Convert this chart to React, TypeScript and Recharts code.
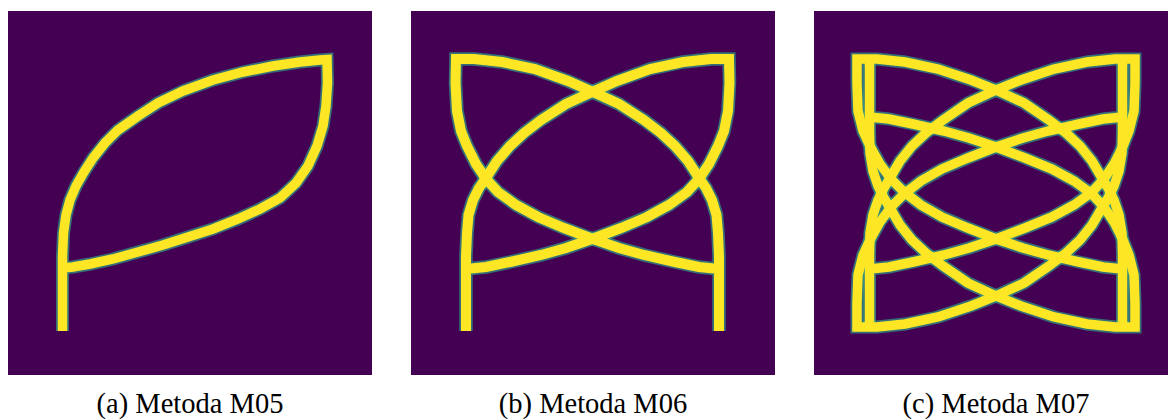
import React from 'react';
import { LineChart, Line, XAxis, YAxis, ReferenceArea } from 'recharts';

// Each member is a closed band: it starts at the bottom of a support stem,
// runs along the upper arc to a corner, down the side and back along the
// lower arc to the stem. Coordinates are in the panel's own 0..364 units,
// y measured from the top.
type Pt = [number, number];

const captions = ['(a) Metoda M05', '(b) Metoda M06', '(c) Metoda M07'];

// (a) M05 – single loop
const m05Loop: Pt[] = [
  [54.5, 320], [54.5, 280], [54.5, 245], [55.5, 222], [58, 204], [62, 189], [68, 175],
  [76, 161], [85, 147], [97, 132], [110, 119], [130, 105], [150, 92], [175, 80],
  [205, 69], [235, 61], [265, 55], [292, 51], [312, 49], [319, 48.5],
  [319.5, 72], [318, 95], [315, 115], [309, 135], [300, 155], [288, 172], [272, 187],
  [252, 198], [230, 208], [205, 218], [180, 226], [155, 234], [130, 241], [105, 248],
  [82, 253], [65, 256], [54.5, 257],
];

// (b) M06 – loop from the left stem and its partner from the right stem
const m06LoopLeft: Pt[] = [
  [55, 320], [55, 280], [55, 245], [56, 222], [57.5, 204], [62, 189], [68, 177],
  [75, 167], [86, 150], [99, 135], [113, 122], [130, 109], [155, 93], [181, 81],
  [206, 70], [239, 58], [272, 51], [300, 48], [318, 48],
  [318.5, 72], [317, 100], [313, 120], [307, 135], [298, 153], [288, 168], [276, 181],
  [258, 194], [236, 206], [210, 217], [181, 228], [155, 237], [130, 244], [99, 251],
  [75, 256], [55, 258],
];
const m06LoopRight: Pt[] = [
  [308, 320], [308, 280], [308, 245], [307, 222], [305.5, 204], [301, 189], [295, 177],
  [288, 167], [277, 150], [264, 135], [250, 122], [233, 109], [208, 93], [182, 81],
  [157, 70], [124, 58], [91, 51], [63, 48], [45, 48],
  [44.5, 72], [46, 100], [50, 120], [56, 135], [65, 153], [75, 168], [87, 181],
  [105, 194], [127, 206], [153, 217], [182, 228], [208, 237], [233, 244], [264, 251],
  [288, 256], [308, 258],
];

// (c) M07 – four loops: stems at the bottom and at the top, on both sides
const m07LoopBottomLeft: Pt[] = [
  [55.5, 320], [55.5, 280], [55.5, 245], [56, 222], [59, 204], [64, 189], [70, 177],
  [76, 167], [86, 150], [98, 135], [112, 122], [129, 109], [154, 92], [182, 79],
  [207, 69], [240, 58], [273, 51], [301, 48], [321, 48],
  [321, 72], [320, 100], [315, 120], [309, 135], [300, 153], [290, 168], [278, 181],
  [260, 194], [238, 206], [211, 217], [182, 228], [155, 237], [130, 244], [99, 251],
  [75, 256], [55.5, 258],
];
const m07LoopBottomRight: Pt[] = [
  [308.5, 320], [308.5, 280], [308.5, 245], [308, 222], [305, 204], [300, 189], [294, 177],
  [288, 167], [278, 150], [266, 135], [252, 122], [235, 109], [210, 92], [182, 79],
  [157, 69], [124, 58], [91, 51], [63, 48], [43, 48],
  [43, 72], [44, 100], [49, 120], [56, 135], [66, 153], [77, 168], [90, 181],
  [107, 194], [128, 206], [154, 217], [182, 228], [209, 237], [234, 244], [265, 251],
  [289, 256], [308.5, 258],
];
const m07LoopTopLeft: Pt[] = [
  [55.5, 44], [55.5, 84], [55.5, 119], [56, 142], [59, 160], [64, 175], [70, 187],
  [76, 197], [86, 214], [98, 229], [112, 242], [129, 255], [154, 272], [182, 285],
  [207, 295], [240, 306], [273, 313], [301, 316], [321, 316],
  [321, 292], [320, 264], [315, 244], [309, 229], [300, 211], [290, 196], [278, 183],
  [260, 170], [238, 158], [211, 147], [182, 136], [155, 127], [130, 120], [99, 113],
  [75, 108], [55.5, 106],
];
const m07LoopTopRight: Pt[] = [
  [308.5, 44], [308.5, 84], [308.5, 119], [308, 142], [305, 160], [300, 175], [294, 187],
  [288, 197], [278, 214], [266, 229], [252, 242], [235, 255], [210, 272], [182, 285],
  [157, 295], [124, 306], [91, 313], [63, 316], [43, 316],
  [43, 292], [44, 264], [49, 244], [56, 229], [66, 211], [77, 196], [90, 183],
  [107, 170], [128, 158], [154, 147], [182, 136], [209, 127], [234, 120], [265, 113],
  [289, 108], [308.5, 106],
];

const panels: { left: number; core: number; loops: Pt[][] }[] = [
  { left: 8, core: 9.5, loops: [m05Loop] },
  { left: 411, core: 10, loops: [m06LoopLeft, m06LoopRight] },
  {
    left: 814,
    core: 9.5,
    loops: [m07LoopBottomLeft, m07LoopBottomRight, m07LoopTopLeft, m07LoopTopRight],
  },
];

const SIZE = 364;
const BG = '#440154';
const CORE = '#fde725';
const EDGE = '#2f9e86';

const toRows = (pts: Pt[]) => pts.map(([x, y]) => ({ x, y }));

function Panel({ left, core, loops }: { left: number; core: number; loops: Pt[][] }) {
  const rows = loops.map(toRows);
  return (
    <div style={{ position: 'absolute', left, top: 11, width: SIZE, height: SIZE }}>
      <LineChart width={SIZE} height={SIZE} margin={{ top: 0, right: 0, bottom: 0, left: 0 }}>
        <XAxis type="number" dataKey="x" domain={[0, SIZE]} hide allowDataOverflow />
        <YAxis type="number" domain={[0, SIZE]} hide reversed allowDataOverflow />
        <ReferenceArea x1={0} x2={SIZE} y1={0} y2={SIZE} fill={BG} fillOpacity={1} stroke="none" />
        {rows.map((r, i) => (
          <Line
            key={`edge-${i}`}
            data={r}
            dataKey="y"
            type="linear"
            stroke={EDGE}
            strokeOpacity={0.7}
            strokeWidth={core + 3.5}
            strokeLinejoin="miter"
            strokeLinecap="butt"
            dot={false}
            activeDot={false}
            isAnimationActive={false}
          />
        ))}
        {rows.map((r, i) => (
          <Line
            key={`core-${i}`}
            data={r}
            dataKey="y"
            type="linear"
            stroke={CORE}
            strokeWidth={core}
            strokeLinejoin="miter"
            strokeLinecap="butt"
            dot={false}
            activeDot={false}
            isAnimationActive={false}
          />
        ))}
      </LineChart>
    </div>
  );
}

export default function App() {
  return (
    <div
      style={{
        position: 'fixed',
        left: 0,
        top: 0,
        width: 1168,
        height: 419,
        overflow: 'hidden',
        background: '#ffffff',
      }}
    >
      {panels.map((p, i) => (
        <Panel key={i} left={p.left} core={p.core} loops={p.loops} />
      ))}
      {panels.map((p, i) => (
        <div
          key={`cap-${i}`}
          style={{
            position: 'absolute',
            left: p.left,
            top: 390,
            width: SIZE,
            textAlign: 'center',
            fontFamily: '"Liberation Serif", "Times New Roman", serif',
            fontSize: 28.5,
            lineHeight: 1,
            color: '#000000',
            whiteSpace: 'nowrap',
          }}
        >
          {captions[i]}
        </div>
      ))}
    </div>
  );
}
